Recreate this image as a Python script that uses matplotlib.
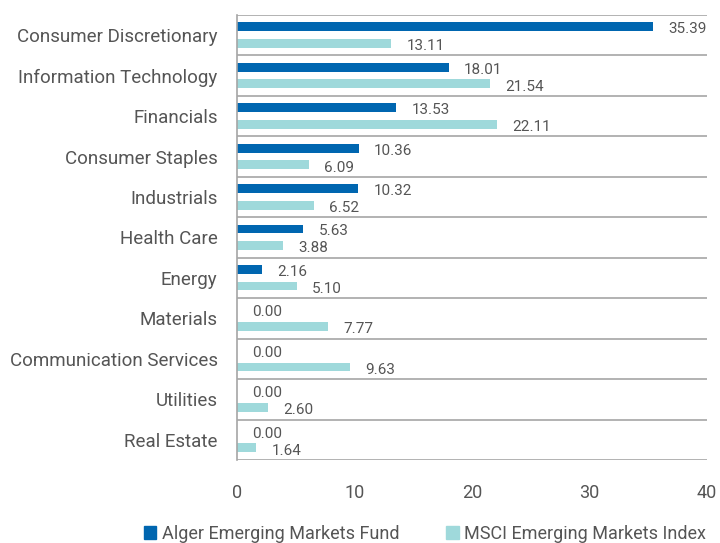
import numpy as np
import matplotlib
matplotlib.use('Agg')
import matplotlib.pyplot as plt
from matplotlib.patches import Patch

plt.rcParams['font.family'] = ['Liberation Sans Narrow', 'Roboto', 'DejaVu Sans']

# Données
secteurs = ['Consumer Discretionary', 'Information Technology', 'Financials',
            'Consumer Staples', 'Industrials', 'Health Care', 'Energy',
            'Materials', 'Communication Services', 'Utilities', 'Real Estate']
fonds = [35.39, 18.01, 13.53, 10.36, 10.32, 5.63, 2.16, 0.00, 0.00, 0.00, 0.00]
indice = [13.11, 21.54, 22.11, 6.09, 6.52, 3.88, 5.10, 7.77, 9.63, 2.60, 1.64]
noms_series = ['Alger Emerging Markets Fund', 'MSCI Emerging Markets Index']

bleu = '#0066b0'
turquoise = '#9fd9db'
gris_texte = '#555555'
gris_ligne = '#a6a6a6'

fig = plt.figure(figsize=(7.2, 5.43), dpi=100)
ax = fig.add_axes([237/720, 1 - 460/543, 470/720, 445/543])

y = np.arange(len(secteurs))
h = 0.22
ax.barh(y - 0.21, fonds, height=h, color=bleu)
ax.barh(y + 0.2, indice, height=h, color=turquoise)

# Étiquettes des valeurs
for i in range(len(secteurs)):
    ax.text(fonds[i] + 1.3, y[i] - 0.15, f'{fonds[i]:.2f}', va='center', ha='left',
            fontsize=11, color=gris_texte)
    ax.text(indice[i] + 1.3, y[i] + 0.27, f'{indice[i]:.2f}', va='center', ha='left',
            fontsize=11, color=gris_texte)

ax.set_xlim(0, 40)
ax.set_ylim(len(secteurs) - 0.5, -0.5)
ax.set_xticks([0, 10, 20, 30, 40])
ax.set_yticks(y)
ax.set_yticklabels(secteurs)

# Séparateurs entre catégories
for b in np.arange(-0.5, len(secteurs), 1):
    ax.axhline(b, color=gris_ligne, linewidth=1.2)

for s in ['top', 'right', 'bottom']:
    ax.spines[s].set_visible(False)
ax.spines['left'].set_color(gris_ligne)
ax.spines['left'].set_linewidth(1.2)
ax.tick_params(length=0, labelcolor=gris_texte, labelsize=13)
ax.tick_params(axis='y', labelsize=13.5, pad=14)
ax.tick_params(axis='x', pad=17)

handles = [Patch(color=bleu), Patch(color=turquoise)]
fig.legend(handles, noms_series, loc='lower center', bbox_to_anchor=(0.59, -0.03),
           ncol=2, frameon=False, fontsize=13, labelcolor=gris_texte,
           handlelength=0.7, handleheight=0.7, handletextpad=0.3, columnspacing=2.6)

fig.savefig('out.png', dpi=100)
